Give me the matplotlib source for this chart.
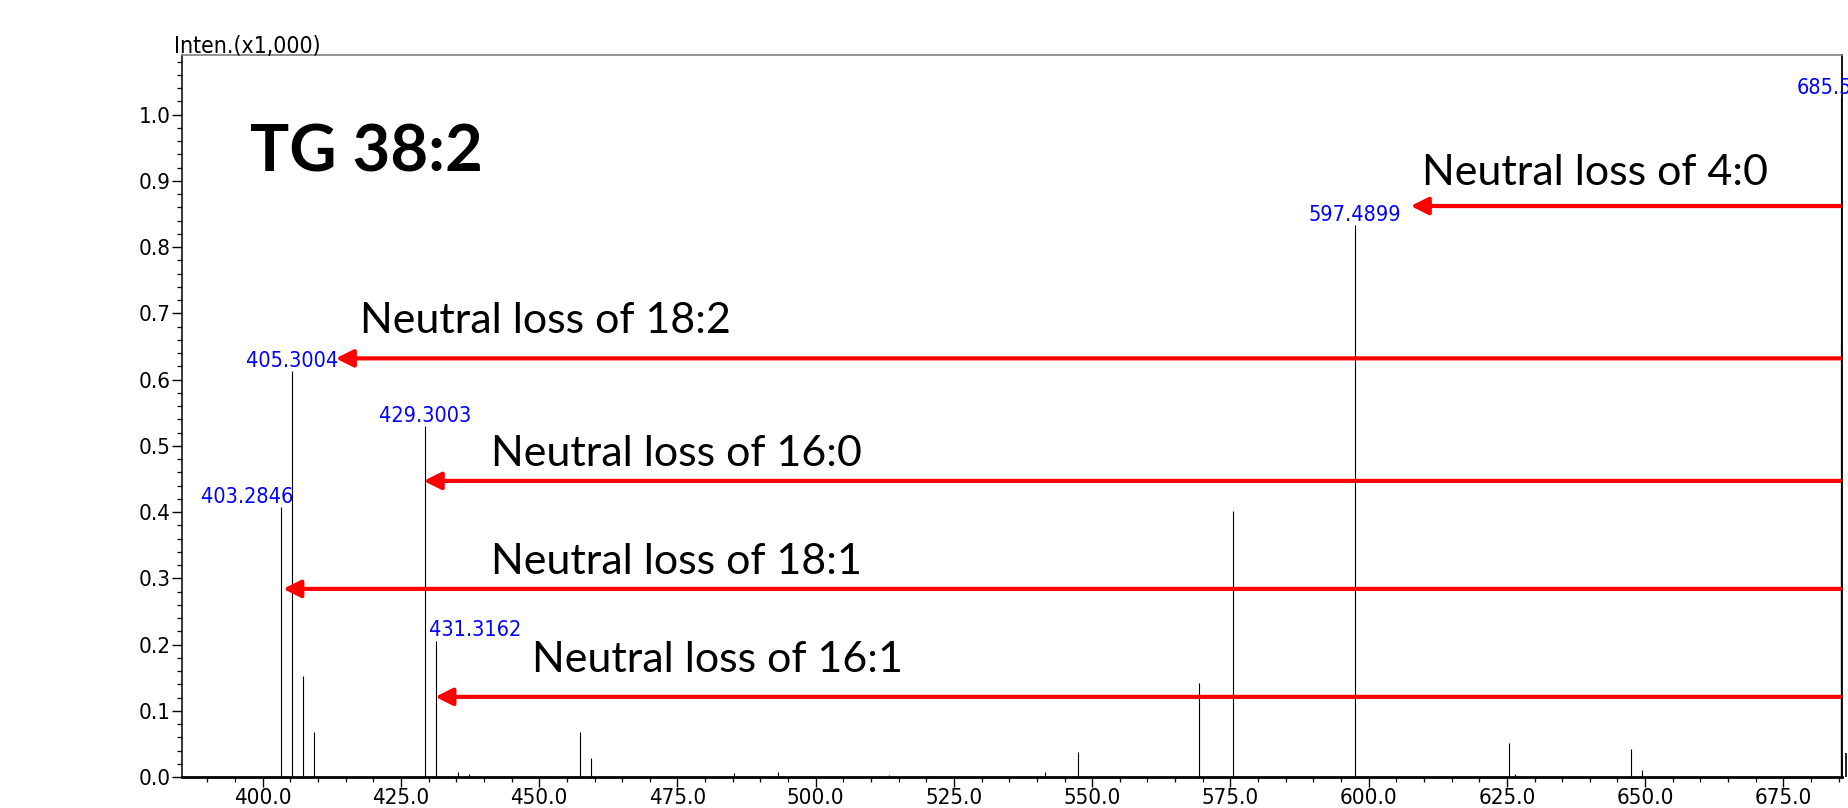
import numpy as np
import matplotlib
matplotlib.use("Agg")
import matplotlib.pyplot as plt
from matplotlib import font_manager
from matplotlib.ticker import MultipleLocator, FormatStrFormatter

# peak list (m/z, intensity x1000)
mz = [403.2846, 405.3004, 407.30, 409.30, 429.3003, 431.3162, 435.30, 437.30,
      451.20, 457.30, 459.30, 485.30, 493.20, 513.20, 521.20, 541.40, 547.40,
      569.40, 575.40, 597.4899, 613.40, 625.40, 626.40, 647.40, 649.40,
      685.35, 685.45, 685.50]
inten = [0.408, 0.613, 0.152, 0.068, 0.530, 0.206, 0.007, 0.004,
         0.002, 0.068, 0.029, 0.006, 0.008, 0.003, 0.002, 0.008, 0.038,
         0.142, 0.402, 0.833, 0.002, 0.052, 0.004, 0.042, 0.011,
         0.656, 0.323, 1.025]

# labelled peaks: m/z, text, alignment
label_mz = [597.4899, 405.3004, 403.2846, 429.3003, 431.3162, 685.50]
label_txt = ["597.4899", "405.3004", "403.2846", "429.3003", "431.3162", "685.5"]
label_ha = ["center", "center", "right", "center", "left", "left"]

# neutral loss arrows: text, arrow tip m/z, arrow level, text position
loss_txt = ["Neutral loss of 4:0", "Neutral loss of 18:2", "Neutral loss of 16:0",
            "Neutral loss of 18:1", "Neutral loss of 16:1"]
loss_tip = [607.6, 413.2, 429.1, 403.7, 431.2]
loss_y = [0.862, 0.632, 0.447, 0.284, 0.121]
loss_tx = [609.6, 417.5, 441.2, 441.2, 448.7]
loss_ty = [0.893, 0.671, 0.470, 0.307, 0.159]
arrow_start = 685.3

# look for a condensed face for the instrument-style labels
narrow = dict(family="DejaVu Sans")
for f in font_manager.fontManager.ttflist:
    if "Narrow" in f.name or "Condensed" in f.name:
        narrow = dict(family=f.name)
        break
    if f.stretch in ("condensed", "semi-condensed", 500 - 100, 300) and f.weight in ("normal", 400, "regular"):
        narrow = dict(family=f.name, stretch=f.stretch)
        break
names = {f.name for f in font_manager.fontManager.ttflist}
label_font = "Lato" if "Lato" in names else "DejaVu Sans"

fig = plt.figure(figsize=(18.49, 8.08), dpi=100)
ax = fig.add_axes([182 / 1849, 31 / 808, 1660 / 1849, 722 / 808])

ax.vlines(mz, 0, inten, color="black", lw=0.8)
# a bit of the isotope cluster spills over the right frame
ax.vlines([685.62, 686.3], 0, [0.03, 0.036], color="black", lw=1.2, clip_on=False)

ax.set_xlim(385.4, 685.6)
ax.set_ylim(0, 1.09)

ax.xaxis.set_major_locator(MultipleLocator(25))
ax.xaxis.set_minor_locator(MultipleLocator(5))
ax.yaxis.set_major_locator(MultipleLocator(0.1))
ax.yaxis.set_minor_locator(MultipleLocator(0.02))
ax.xaxis.set_major_formatter(FormatStrFormatter("%.1f"))
ax.yaxis.set_major_formatter(FormatStrFormatter("%.1f"))
ax.tick_params(which="major", direction="out", length=7.2, width=1, pad=1)
ax.tick_params(which="minor", direction="out", length=3.6, width=0.9)
for lab in ax.get_xticklabels() + ax.get_yticklabels():
    lab.set_fontproperties(font_manager.FontProperties(size=16, **narrow))

ax.spines["top"].set_color("#808080")
ax.spines["top"].set_linewidth(1.2)
ax.spines["left"].set_linewidth(1.1)
ax.spines["right"].set_linewidth(1.3)
ax.spines["bottom"].set_linewidth(2.0)

fig.text(174 / 1849, 1 - 53 / 808, "Inten.(x1,000)", fontsize=16.5,
         ha="left", va="baseline", **narrow)

# blue peak labels
for m, t, ha in zip(label_mz, label_txt, label_ha):
    h = inten[mz.index(m)]
    dx = {"center": 0, "right": 9, "left": -5}[ha]
    if t == "685.5":
        dx = -32
    ax.annotate(t, (m, h), xytext=(dx, 3), textcoords="offset points",
                ha=ha, va="baseline", color="#0000FF", fontsize=15.5,
                annotation_clip=False, **narrow)

# red arrows and captions
for t, tip, y, tx, ty in zip(loss_txt, loss_tip, loss_y, loss_tx, loss_ty):
    ax.annotate("", xy=(tip, y), xytext=(arrow_start, y),
                arrowprops=dict(arrowstyle="-|>", color="#FF0000", lw=3,
                                mutation_scale=26, shrinkA=0, shrinkB=0))
    ax.text(tx, ty, t, family=label_font, fontsize=31, ha="left", va="baseline")

ax.text(250 / 1849, 1 - 171 / 808, "TG 38:2", transform=fig.transFigure,
        family=label_font, fontweight="bold", fontsize=47, ha="left", va="baseline")

fig.savefig("out.png", dpi=100)
